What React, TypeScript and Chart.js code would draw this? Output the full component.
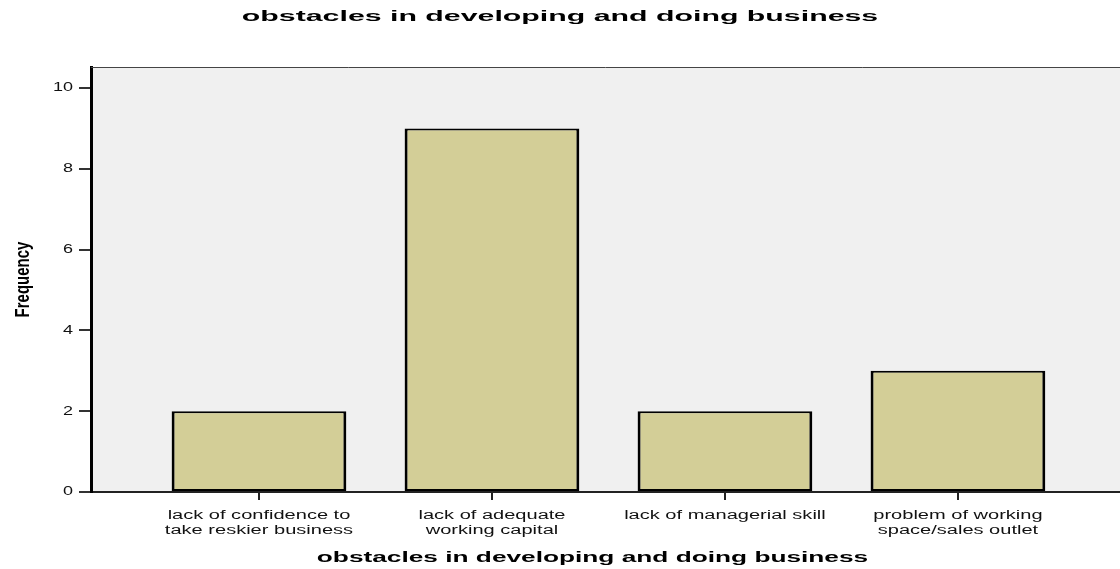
import React, { useEffect, useRef } from "react";
import { Chart, registerables } from "chart.js";

Chart.register(...registerables);

const chartTitle = "obstacles in developing and doing business";
const xAxisTitle = "obstacles in developing and doing business";
const yAxisTitle = "Frequency";
const categories: string[][] = [
  ["lack of confidence to", "take reskier business"],
  ["lack of adequate", "working capital"],
  ["lack of managerial skill"],
  ["problem of working", "space/sales outlet"],
];
const frequencies = [2, 9, 2, 3];
const yTicks = [0, 2, 4, 6, 8, 10];

const FONT = "'Liberation Sans', Arial, sans-serif";

// The reference renders its text horizontally widened; reproduce that by
// scaling each fillText call around its anchor point.
function stretchFor(text: string, screenY: number, rotated: boolean) {
  if (rotated) return { sx: 1, sy: 1.38, dx: 0 };
  if (text === chartTitle && screenY < 60) return { sx: 2.02, sy: 1, dx: 13 };
  if (text === xAxisTitle) return { sx: 1.75, sy: 1, dx: 0 };
  if (/^\d+$/.test(text)) return { sx: 1.5, sy: 1, dx: 0 };
  return { sx: 1.67, sy: 1, dx: 0 };
}

const framePlugin = {
  id: "frame",
  beforeDraw(chart: any) {
    const { ctx, chartArea, width } = chart;
    if (!ctx.__stretchPatched) {
      const orig = ctx.fillText.bind(ctx);
      ctx.fillText = (text: string, x: number, y: number, maxWidth?: number) => {
        const m = ctx.getTransform();
        const rotated = Math.abs(m.b) > 0.5;
        const screenY = m.b * x + m.d * y + m.f;
        const s = stretchFor(String(text), screenY, rotated);
        ctx.save();
        ctx.translate(x + s.dx, y);
        ctx.scale(s.sx, s.sy);
        orig(text, 0, 0);
        ctx.restore();
      };
      ctx.__stretchPatched = true;
    }
    ctx.save();
    ctx.fillStyle = "#F0F0F0";
    ctx.fillRect(chartArea.left, chartArea.top, width - chartArea.left, chartArea.bottom - chartArea.top);
    ctx.restore();
  },
  afterDraw(chart: any) {
    const { ctx, chartArea, width } = chart;
    ctx.save();
    ctx.strokeStyle = "#444";
    ctx.lineWidth = 1;
    ctx.beginPath();
    ctx.moveTo(chartArea.left, chartArea.top + 0.5);
    ctx.lineTo(width, chartArea.top + 0.5);
    ctx.stroke();
    ctx.strokeStyle = "#222";
    ctx.lineWidth = 2;
    ctx.beginPath();
    ctx.moveTo(chartArea.right - 1, chartArea.bottom);
    ctx.lineTo(width, chartArea.bottom);
    ctx.stroke();
    ctx.restore();
  },
};

export default function App() {
  const ref = useRef<HTMLCanvasElement>(null);
  useEffect(() => {
    if (!ref.current) return;
    const chart = new Chart(ref.current, {
      type: "bar",
      data: {
        datasets: [
          {
            data: frequencies.map((v, i) => ({ x: i, y: v })),
            backgroundColor: "#D3CE97",
            borderColor: "#000000",
            borderWidth: { top: 2, bottom: 2, left: 3, right: 3 },
            borderSkipped: false,
            barPercentage: 0.75,
            categoryPercentage: 1,
          },
        ],
      },
      options: {
        animation: false,
        responsive: false,
        layout: { padding: { left: 0, right: 26, top: 0, bottom: 0 } },
        plugins: {
          legend: { display: false },
          tooltip: { enabled: false },
          title: {
            display: true,
            text: chartTitle,
            color: "#000",
            font: { family: FONT, size: 15, weight: "bold" },
            padding: { top: 8, bottom: 41 },
          },
        },
        scales: {
          x: {
            type: "linear",
            offset: false,
            min: -0.721,
            max: 3.584,
            afterBuildTicks: (scale: any) => {
              scale.ticks = categories.map((_, i) => ({ value: i }));
            },
            afterFit: (scale: any) => {
              scale.height = 77;
            },
            ticks: {
              autoSkip: false,
              maxRotation: 0,
              padding: 8,
              color: "#111",
              font: { family: FONT, size: 12, lineHeight: 1.25 },
              callback: (v: any) => categories[v as number] ?? "",
            },
            grid: {
              offset: false,
              drawOnChartArea: false,
              drawTicks: true,
              tickLength: 8,
              color: "#222",
              lineWidth: 2,
            },
            border: { display: true, color: "#222", width: 2 },
            title: {
              display: true,
              text: xAxisTitle,
              color: "#000",
              font: { family: FONT, size: 15, weight: "bold" },
              padding: { top: 0, bottom: 2 },
            },
          },
          y: {
            min: 0,
            max: 10.52,
            afterBuildTicks: (scale: any) => {
              scale.ticks = yTicks.map((v) => ({ value: v }));
            },
            afterFit: (scale: any) => {
              scale.width = 91;
            },
            ticks: {
              padding: 6,
              color: "#111",
              font: { family: FONT, size: 12 },
            },
            grid: {
              drawOnChartArea: false,
              drawTicks: true,
              tickLength: 12,
              color: "#333",
              lineWidth: 2,
            },
            border: { display: true, color: "#000", width: 3 },
            title: {
              display: true,
              text: yAxisTitle,
              color: "#000",
              font: { family: FONT, size: 15, weight: "bold" },
              padding: { top: 14, bottom: 0 },
            },
          },
        },
      },
      plugins: [framePlugin],
    });
    return () => chart.destroy();
  }, []);
  return (
    <div style={{ position: "fixed", left: 0, top: 0, width: 1120, height: 569, background: "#fff" }}>
      <canvas ref={ref} width={1120} height={569} style={{ width: 1120, height: 569, display: "block" }} />
    </div>
  );
}
